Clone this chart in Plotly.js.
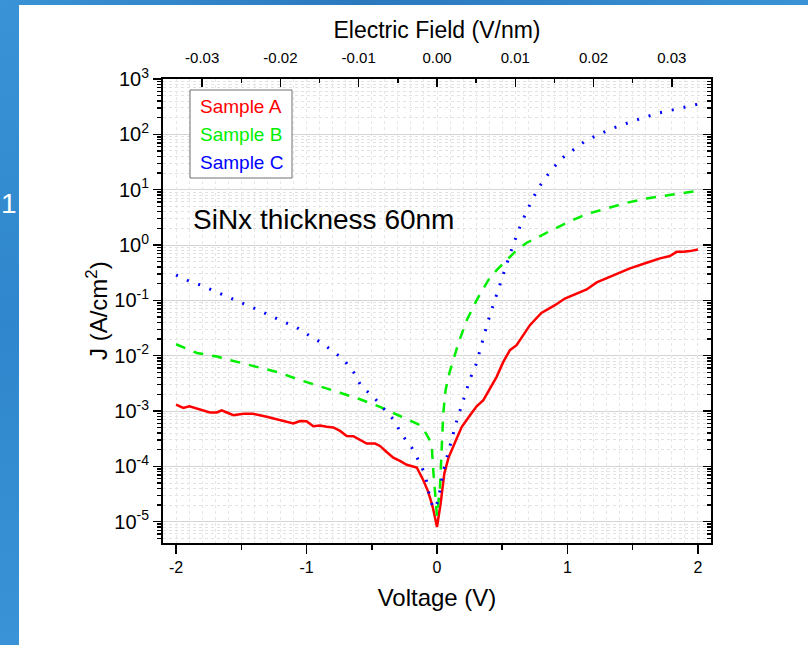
<!DOCTYPE html>
<html>
<head>
<meta charset="utf-8">
<script src="https://cdn.plot.ly/plotly-3.0.1.min.js"></script>
<style>
  html, body { margin: 0; padding: 0; background: #ffffff; }
  #wrap { position: relative; width: 808px; height: 645px; overflow: hidden; background: #ffffff; }
  #leftbar { position: absolute; left: 0; top: 0; width: 19px; height: 645px;
             background: linear-gradient(180deg, #3a93d6 0%, #2f86cc 50%, #3a93d6 100%); }
  #topbar { position: absolute; left: 0; top: 0; width: 808px; height: 5px;
            background: linear-gradient(90deg, #3a93d6 0%, #2b78bd 45%, #3a93d6 100%); }
  #slideNum { position: absolute; left: 1px; top: 188px; color: #ffffff;
              font-family: Arial, "Liberation Sans", sans-serif; font-size: 28px; }
  #chart { position: absolute; left: 0; top: 0; width: 808px; height: 645px; }
</style>
</head>
<body>
<div id="wrap">
  <div id="leftbar"></div>
  <div id="topbar"></div>
  <div id="slideNum">1</div>
  <div id="chart"></div>
</div>
<script>
// ---- Data ----
const seriesNames = ["Sample A", "Sample B", "Sample C"];

const voltageA = [-2.0, -1.944, -1.898, -1.816, -1.74, -1.688, -1.65, -1.61, -1.56, -1.484, -1.408, -1.305, -1.203, -1.152, -1.101, -1.05, -1.0, -0.948, -0.897, -0.845, -0.795, -0.743, -0.692, -0.641, -0.59, -0.539, -0.475, -0.437, -0.386, -0.335, -0.284, -0.232, -0.155, -0.105, -0.067, -0.033, 0.0, 0.028, 0.056, 0.087, 0.145, 0.189, 0.253, 0.304, 0.355, 0.406, 0.457, 0.508, 0.559, 0.61, 0.661, 0.712, 0.80, 0.84, 0.904, 0.98, 1.057, 1.147, 1.224, 1.351, 1.479, 1.607, 1.709, 1.785, 1.837, 1.887, 1.939, 2.0];
const currentA = [1.31e-3, 1.14e-3, 1.22e-3, 1.06e-3, 9.4e-4, 9.4e-4, 1.03e-3, 9.4e-4, 8.39e-4, 8.91e-4, 8.91e-4, 7.85e-4, 6.82e-4, 6.55e-4, 5.94e-4, 6.61e-4, 6.55e-4, 5.31e-4, 5.47e-4, 5.18e-4, 5.04e-4, 4.37e-4, 3.55e-4, 3.5e-4, 2.96e-4, 2.58e-4, 2.58e-4, 2.34e-4, 1.82e-4, 1.44e-4, 1.26e-4, 1.07e-4, 9.55e-5, 5.62e-5, 3.47e-5, 1.86e-5, 8.04e-6, 2.14e-5, 7.41e-5, 1.41e-4, 2.95e-4, 5.13e-4, 8.39e-4, 1.22e-3, 1.57e-3, 2.55e-3, 4.14e-3, 7.73e-3, 0.0126, 0.0155, 0.0234, 0.0356, 0.0594, 0.0665, 0.0818, 0.108, 0.129, 0.157, 0.211, 0.286, 0.378, 0.478, 0.573, 0.631, 0.753, 0.753, 0.776, 0.832];

const voltageB = [-2.0, -1.84, -1.676, -1.638, -1.484, -1.369, -1.203, -1.05, -0.897, -0.743, -0.59, -0.437, -0.284, -0.143, -0.105, -0.041, -0.029, -0.015, 0.0, 0.023, 0.031, 0.04, 0.048, 0.066, 0.094, 0.125, 0.163, 0.228, 0.304, 0.393, 0.457, 0.534, 0.598, 0.687, 0.76, 0.853, 0.994, 1.147, 1.30, 1.453, 1.607, 1.76, 1.913, 2.0];
const currentB = [0.0161, 0.0112, 0.00955, 0.00891, 0.00724, 0.00612, 0.0049, 0.00363, 0.00282, 0.00214, 0.00163, 0.00119, 8.13e-4, 5.75e-4, 4.79e-4, 2.57e-4, 8.51e-5, 2.82e-5, 1.26e-5, 4.27e-5, 1.12e-4, 2.95e-4, 9.02e-4, 2.4e-3, 4.79e-3, 8.32e-3, 0.0166, 0.0437, 0.101, 0.232, 0.352, 0.533, 0.753, 1.10, 1.32, 1.73, 2.52, 3.62, 4.57, 5.79, 6.95, 7.98, 8.91, 9.44];

const voltageC = [-2.0, -1.90, -1.81, -1.72, -1.62, -1.535, -1.44, -1.35, -1.26, -1.165, -1.075, -0.981, -0.891, -0.802, -0.718, -0.638, -0.582, -0.49, -0.406, -0.33, -0.271, -0.194, -0.14, -0.089, -0.069, -0.046, -0.02, 0.008, 0.028, 0.044, 0.071, 0.10, 0.128, 0.156, 0.189, 0.222, 0.258, 0.301, 0.33, 0.355, 0.389, 0.421, 0.455, 0.49, 0.523, 0.559, 0.598, 0.637, 0.682, 0.731, 0.788, 0.866, 0.956, 1.048, 1.139, 1.231, 1.326, 1.415, 1.507, 1.599, 1.691, 1.783, 1.875, 1.969, 2.0];
const currentC = [0.286, 0.222, 0.188, 0.153, 0.119, 0.098, 0.0794, 0.0638, 0.0504, 0.0408, 0.0324, 0.0232, 0.0175, 0.0122, 0.00865, 0.00497, 0.00284, 0.00183, 0.00108, 6.82e-4, 3.8e-4, 2.19e-4, 1.26e-4, 7.0e-5, 3.89e-5, 2.24e-5, 1.7e-5, 2.37e-5, 4.27e-5, 7.41e-5, 1.32e-4, 2.4e-4, 4.07e-4, 7.31e-4, 1.27e-3, 2.31e-3, 4.04e-3, 7.11e-3, 0.0129, 0.0225, 0.0404, 0.0701, 0.126, 0.216, 0.387, 0.684, 1.23, 2.18, 3.82, 6.73, 11.7, 21.1, 36.8, 54.2, 76.6, 97.0, 123, 147, 176, 206, 240, 267, 303, 339, 351];

const yTickVals = [1e-5, 1e-4, 1e-3, 1e-2, 1e-1, 1e0, 1e1, 1e2, 1e3];
const yTickText = ["10<sup>-5</sup>", "10<sup>-4</sup>", "10<sup>-3</sup>", "10<sup>-2</sup>", "10<sup>-1</sup>", "10<sup>0</sup>", "10<sup>1</sup>", "10<sup>2</sup>", "10<sup>3</sup>"];
const xTickVals = [-2, -1, 0, 1, 2];
const xTickText = ["-2", "-1", "0", "1", "2"];
const fieldTickVals = [-0.03, -0.02, -0.01, 0, 0.01, 0.02, 0.03];
const fieldTickText = ["-0.03", "-0.02", "-0.01", "0.00", "0.01", "0.02", "0.03"];
const thicknessNm = 60;

// minor tick positions for log axis (2..9 per decade)
const yMinorVals = [];
for (let e = -6; e <= 2; e++) for (let m = 2; m <= 9; m++) yMinorVals.push(m * Math.pow(10, e));

const FONT = 'Arial, "Liberation Sans", sans-serif';
const xRange = [-2.1, 2.1];
const yRange = [-5.385, 3];

const traces = [
  { x: voltageA, y: currentA, name: seriesNames[0], type: 'scatter', mode: 'lines',
    line: { color: '#ff0000', width: 2.5 } },
  { x: voltageB, y: currentB, name: seriesNames[1], type: 'scatter', mode: 'lines',
    line: { color: '#00ee00', width: 2.5, dash: '10px,9px' } },
  { x: voltageC, y: currentC, name: seriesNames[2], type: 'scatter', mode: 'lines',
    line: { color: '#0000ff', width: 3, dash: '2px,10px' } },
  // empty helper traces so that the overlaying axes (top field axis, right axis, grid axis) are drawn
  { x: [], y: [], xaxis: 'x2', yaxis: 'y2', type: 'scatter', mode: 'lines', hoverinfo: 'skip', showlegend: false },
  { x: [], y: [], xaxis: 'x3', yaxis: 'y', type: 'scatter', mode: 'lines', hoverinfo: 'skip', showlegend: false }
];

const L = 163, R = 711, T = 79, B = 543;
const px = v => (v - L) / (R - L);
const py = v => 1 - (v - T) / (B - T);

const layout = {
  width: 808, height: 645,
  margin: { l: L, r: 808 - R, t: T, b: 645 - B, pad: 0 },
  paper_bgcolor: 'rgba(0,0,0,0)',
  plot_bgcolor: '#ffffff',
  showlegend: false,
  font: { family: FONT, color: '#000000' },
  xaxis: {
    range: xRange, autorange: false, zeroline: false, showgrid: false,
    tickmode: 'array', tickvals: xTickVals, ticktext: xTickText,
    ticks: 'outside', ticklen: 9, tickwidth: 1.5, tickcolor: '#000',
    minor: { dtick: 0.5, tick0: 0, ticks: 'outside', ticklen: 5, tickwidth: 1.5, tickcolor: '#000', showgrid: false },
    showline: true, linewidth: 2, linecolor: '#000',
    tickfont: { size: 16, family: FONT },
    title: { text: 'Voltage (V)', font: { size: 24, family: FONT }, standoff: 14 }
  },
  xaxis2: {
    overlaying: 'x', side: 'top', anchor: 'y2',
    range: [xRange[0] / thicknessNm, xRange[1] / thicknessNm], autorange: false,
    zeroline: false, showgrid: false,
    tickmode: 'array', tickvals: fieldTickVals, ticktext: fieldTickText,
    ticks: 'inside', ticklen: 8, tickwidth: 1.5, tickcolor: '#000',
    minor: { dtick: 0.005, tick0: 0, ticks: 'inside', ticklen: 4, tickwidth: 1.5, tickcolor: '#000', showgrid: false },
    showline: true, linewidth: 2, linecolor: '#000',
    ticklabelstandoff: 8,
    tickfont: { size: 15, family: FONT },
    title: { text: 'Electric Field (V/nm)', font: { size: 23, family: FONT }, standoff: 4 }
  },
  xaxis3: {
    overlaying: 'x', anchor: 'y', range: xRange, autorange: false,
    showgrid: true, gridcolor: '#e6e6e6', griddash: 'dot', gridwidth: 1,
    tickmode: 'linear', dtick: 0.1, tick0: 0, showticklabels: false, ticks: '', showline: false, zeroline: false
  },
  yaxis: {
    type: 'log', range: yRange, autorange: false, zeroline: false,
    tickmode: 'array', tickvals: yTickVals, ticktext: yTickText,
    ticks: 'outside', ticklen: 8, tickwidth: 1.5, tickcolor: '#000',
    showgrid: true, gridcolor: '#d4d4d4', gridwidth: 1,
    minor: { tickmode: 'array', tickvals: yMinorVals, ticks: 'outside', ticklen: 4, tickwidth: 1.5, tickcolor: '#000',
             showgrid: true, gridcolor: '#e2e2e2', griddash: 'dot', gridwidth: 1 },
    showline: true, linewidth: 2, linecolor: '#000',
    tickfont: { size: 20, family: FONT }
  },
  yaxis2: {
    type: 'log', overlaying: 'y', side: 'right', anchor: 'x2', range: yRange, autorange: false,
    zeroline: false, showgrid: false, showticklabels: false,
    tickmode: 'array', tickvals: yTickVals,
    ticks: 'inside', ticklen: 8, tickwidth: 1.5, tickcolor: '#000',
    minor: { tickmode: 'array', tickvals: yMinorVals, ticks: 'inside', ticklen: 4, tickwidth: 1.5, tickcolor: '#000', showgrid: false },
    showline: true, linewidth: 2, linecolor: '#000'
  },
  shapes: [
    { type: 'rect', xref: 'paper', yref: 'paper', x0: px(190), x1: px(292), y0: py(178), y1: py(90),
      line: { color: '#707070', width: 1 }, fillcolor: '#ffffff', layer: 'above' }
  ],
  annotations: [
    { xref: 'paper', yref: 'paper', x: px(97), y: py(311), xanchor: 'center', yanchor: 'middle', showarrow: false,
      textangle: -90, text: 'J (A/cm<sup>2</sup>)', font: { size: 24, color: '#000', family: FONT } },
    { xref: 'paper', yref: 'paper', x: px(198), y: py(107), xanchor: 'left', yanchor: 'middle', showarrow: false,
      text: seriesNames[0], font: { size: 19, color: '#ff0000', family: FONT } },
    { xref: 'paper', yref: 'paper', x: px(198), y: py(134), xanchor: 'left', yanchor: 'middle', showarrow: false,
      text: seriesNames[1], font: { size: 19, color: '#00ee00', family: FONT } },
    { xref: 'paper', yref: 'paper', x: px(198), y: py(162), xanchor: 'left', yanchor: 'middle', showarrow: false,
      text: seriesNames[2], font: { size: 19, color: '#0000ff', family: FONT } },
    { xref: 'paper', yref: 'paper', x: px(191), y: py(219), xanchor: 'left', yanchor: 'middle', showarrow: false,
      text: 'SiNx thickness ' + thicknessNm + 'nm', font: { size: 28, color: '#000', family: FONT } }
  ]
};

Plotly.newPlot('chart', traces, layout, { staticPlot: true, displayModeBar: false });
</script>
</body>
</html>
